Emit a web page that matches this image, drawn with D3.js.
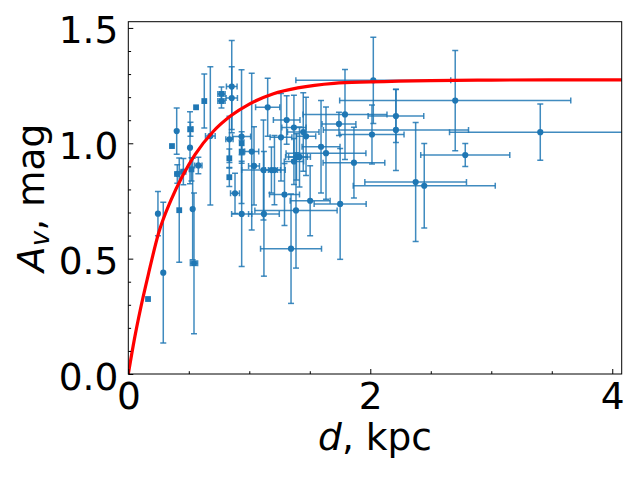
<!DOCTYPE html>
<html>
<head>
<meta charset="utf-8">
<script src="https://cdn.jsdelivr.net/npm/d3@7"></script>
<style>
  body { margin: 0; background: #fff; }
  text { font-family: 'DejaVu Sans', sans-serif; fill: #000; }
</style>
</head>
<body>
<script>
'use strict'

const BLUE = '#1f77b4'
const RED  = '#ff0000'

// square markers: distance (kpc), extinction (mag) and their errors
const sqDist    = [0.163, 0.361, 0.514, 0.560, 0.628, 0.770, 0.770, 0.421, 0.543, 0.522, 0.835, 0.835, 0.937, 0.937]
const sqDistErr = [0,     0,     0.02,  0,     0,     0.03,  0.03,  0,     0.03,  0,     0,     0,     0,     0]
const sqAv      = [0.325, 0.988, 1.061, 1.156, 1.183, 1.214, 1.183, 0.710, 0.480, 0.887, 0.935, 0.853, 1.000, 0.964]
const sqAvErr   = [0,     0,     0.03,  0,     0.117, 0.03,  0.03,  0.226, 0.305, 0.05,  0.04,  0.04,  0.05,  0.05]

// circle markers
const ciDist    = [0.245, 0.289, 0.400, 0.510, 0.532, 0.405, 0.455, 0.579, 0.678, 0.855,
                   0.855, 0.836, 0.936, 0.882, 0.937, 1.020, 1.039, 1.121, 1.117, 1.183,
                   1.208, 1.152, 1.309, 1.369, 1.446, 1.469, 1.262, 1.291, 1.503, 1.751,
                   1.386, 1.345, 1.390, 1.415, 1.369, 1.593, 1.634, 1.741, 1.791, 1.865,
                   2.014, 2.025, 2.212, 2.212, 2.702, 3.405, 2.785, 2.375, 2.446]
const ciDistErr = [0,     0,     0,     0,     0,     0.02,  0.02,  0.03,  0.04,  0.044,
                   0.047, 0.03,  0.075, 0.037, 0.083, 0.058, 0.045, 0.127, 0.18,  0.05,
                   0.05,  0.10,  0.11,  0.10,  0.13,  0.08,  0.09,  0.124, 0.165, 0.215,
                   0.34,  0.252, 0.09,  0.09,  0.08,  0.157, 0.33,  0.14,  0.347, 0.255,
                   0.265, 0.64,  0.23,  0.60,  0.955, 0.75,  0.368, 0.42,  0.587]
const ciAv      = [0.695, 0.439, 1.053, 0.981, 0.715, 0.867, 0.877, 0.904, 1.032, 1.246,
                   1.196, 1.017, 1.029, 0.783, 0.694, 0.964, 0.902, 0.694, 0.884, 0.884,
                   0.884, 1.156, 1.101, 1.068, 1.049, 1.030, 1.026, 0.778, 0.751, 0.737,
                   0.709, 0.543, 0.941, 0.941, 0.921, 0.985, 0.957, 1.084, 1.125, 0.916,
                   1.038, 1.273, 1.118, 1.058, 1.185, 1.048, 0.949, 0.832, 0.816]
const ciAvErr   = [0.096, 0.305, 0.10,  0.156, 0.22,  0.04,  0.057, 0.036, 0.30,  0.20,
                   0.136, 0.10,  0.29,  0.087, 0.228, 0.34,  0.17,  0.27,  0.217, 0.10,
                   0.15,  0.126, 0.105, 0.14,  0.17,  0.17,  0.19,  0.134, 0.152, 0.24,
                   0.25,  0.237, 0.10,  0.13,  0.10,  0.20,  0.20,  0.05,  0.195, 0.153,
                   0.128, 0.187, 0.115, 0.176, 0.217, 0.122, 0.05,  0.258, 0.183]

// fitted extinction curve
const fitDist = [0, 0.05, 0.1, 0.165, 0.25, 0.35, 0.45, 0.55, 0.7, 0.85, 1.0, 1.2, 1.4, 1.7, 2.0, 2.5, 3.0, 3.5, 4.1]
const fitAv   = [0, 0.15, 0.28, 0.43, 0.61, 0.75, 0.86, 0.95, 1.05, 1.12, 1.17, 1.215, 1.24, 1.26, 1.266, 1.272, 1.274, 1.275, 1.275]

const xTicks = [0, 2, 4]
const xMinor = [0.5, 1, 1.5, 2.5, 3, 3.5]
const yTicks = [0, 0.5, 1.0, 1.5]
const yMinor = [0.1, 0.2, 0.3, 0.4, 0.6, 0.7, 0.8, 0.9, 1.1, 1.2, 1.3, 1.4]

const W = 640, H = 480
const M = { left: 128.3, right: 621.7, top: 21.7, bottom: 374 }

const x = d3.scaleLinear().domain([0, 4.078]).range([M.left, M.right])
const y = d3.scaleLinear().domain([0, 1.527]).range([M.bottom, M.top])

const svg = d3.select('body')
  .append('svg')
  .attr('width', W)
  .attr('height', H)

svg.append('defs').append('clipPath')
  .attr('id', 'plot-clip')
  .append('rect')
  .attr('x', M.left).attr('y', M.top)
  .attr('width', M.right - M.left).attr('height', M.bottom - M.top)

const plot = svg.append('g').attr('clip-path', 'url(#plot-clip)')

function toPoints(ds, des, as, aes) {
  return ds.map((d, i) => ({ d, de: des[i], a: as[i], ae: aes[i] }))
}

const squares = toPoints(sqDist, sqDistErr, sqAv, sqAvErr)
const circles = toPoints(ciDist, ciDistErr, ciAv, ciAvErr)

const CAP = 3

function drawErrorBars(points) {
  const g = plot.append('g')
    .attr('stroke', BLUE)
    .attr('stroke-width', 1.5)
    .attr('stroke-opacity', 0.85)
  points.forEach(p => {
    const px = x(p.d), py = y(p.a)
    if (p.ae > 0) {
      const y0 = y(p.a - p.ae), y1 = y(p.a + p.ae)
      g.append('line').attr('x1', px).attr('x2', px).attr('y1', y0).attr('y2', y1)
      g.append('line').attr('x1', px - CAP).attr('x2', px + CAP).attr('y1', y0).attr('y2', y0)
      g.append('line').attr('x1', px - CAP).attr('x2', px + CAP).attr('y1', y1).attr('y2', y1)
    }
    if (p.de > 0) {
      const x0 = x(p.d - p.de), x1 = x(p.d + p.de)
      g.append('line').attr('x1', x0).attr('x2', x1).attr('y1', py).attr('y2', py)
      g.append('line').attr('x1', x0).attr('x2', x0).attr('y1', py - CAP).attr('y2', py + CAP)
      g.append('line').attr('x1', x1).attr('x2', x1).attr('y1', py - CAP).attr('y2', py + CAP)
    }
  })
}

drawErrorBars(squares)
drawErrorBars(circles)

plot.append('g')
  .selectAll('rect')
  .data(squares)
  .join('rect')
  .attr('x', p => x(p.d) - 2.9)
  .attr('y', p => y(p.a) - 2.9)
  .attr('width', 5.8)
  .attr('height', 5.8)
  .attr('fill', BLUE)

plot.append('g')
  .selectAll('circle')
  .data(circles)
  .join('circle')
  .attr('cx', p => x(p.d))
  .attr('cy', p => y(p.a))
  .attr('r', 3.1)
  .attr('fill', BLUE)

const line = d3.line()
  .x((d, i) => x(fitDist[i]))
  .y((d, i) => y(fitAv[i]))
  .curve(d3.curveMonotoneX)

plot.append('path')
  .datum(fitDist)
  .attr('d', line)
  .attr('fill', 'none')
  .attr('stroke', RED)
  .attr('stroke-width', 3.2)

// axes, ticks pointing inwards
const FONT = 37.5

svg.append('g')
  .attr('transform', `translate(0, ${ M.bottom })`)
  .call(d3.axisBottom(x).tickValues(xTicks).tickSize(-5).tickPadding(8).tickFormat(d3.format('d')))
svg.append('g')
  .attr('transform', `translate(0, ${ M.bottom })`)
  .call(d3.axisBottom(x).tickValues(xMinor).tickSize(-2.8).tickFormat(''))

svg.append('g')
  .attr('class', 'y-major')
  .attr('transform', `translate(${ M.left }, 0)`)
  .call(d3.axisLeft(y).tickValues(yTicks).tickSize(-5).tickPadding(10).tickFormat(d3.format('.1f')))
svg.append('g')
  .attr('transform', `translate(${ M.left }, 0)`)
  .call(d3.axisLeft(y).tickValues(yMinor).tickSize(-2.8).tickFormat(''))

svg.selectAll('.domain').remove()
svg.selectAll('.tick line').attr('stroke', '#000').attr('stroke-width', 1)
svg.selectAll('.tick text')
  .attr('font-family', 'DejaVu Sans, sans-serif')
  .attr('font-size', FONT)
  .attr('fill', '#000')
svg.selectAll('.y-major .tick text').attr('dy', '0.4em')

svg.append('rect')
  .attr('x', M.left).attr('y', M.top)
  .attr('width', M.right - M.left).attr('height', M.bottom - M.top)
  .attr('fill', 'none')
  .attr('stroke', '#000')
  .attr('stroke-width', 1)

// axis labels
const xLabel = svg.append('text')
  .attr('x', (M.left + M.right) / 2)
  .attr('y', 450)
  .attr('text-anchor', 'middle')
  .attr('font-size', FONT)
xLabel.append('tspan').attr('font-style', 'italic').text('d')
xLabel.append('tspan').text(', kpc')

const yLabel = svg.append('text')
  .attr('transform', `translate(44, ${ (M.top + M.bottom) / 2 }) rotate(-90)`)
  .attr('text-anchor', 'middle')
  .attr('font-size', FONT)
yLabel.append('tspan').attr('font-style', 'italic').text('A')
yLabel.append('tspan').attr('font-style', 'italic').attr('font-size', FONT * 0.7).attr('dy', 5).text('v')
yLabel.append('tspan').attr('dy', -5).text(', mag')
</script>
</body>
</html>
